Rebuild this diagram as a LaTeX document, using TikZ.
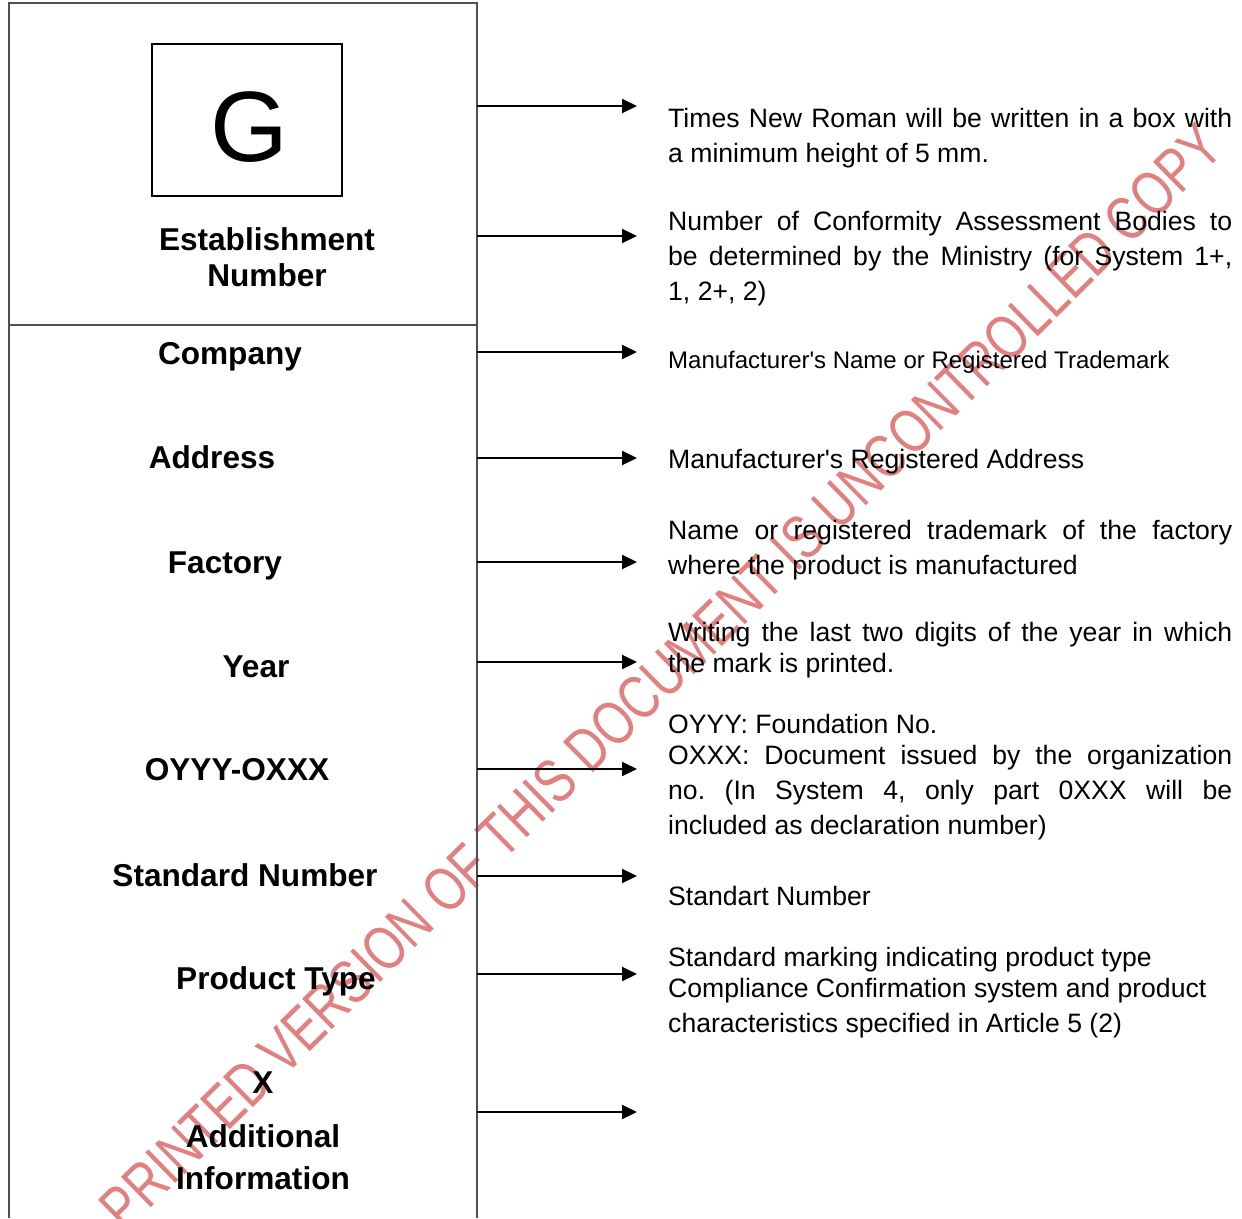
\documentclass[tikz,border=0pt]{standalone}
\usepackage{fontspec}
\setmainfont{Liberation Sans}
\usetikzlibrary{arrows.meta, positioning}
\definecolor{stampred}{RGB}{224, 128, 128}
\definecolor{framegray}{RGB}{80, 80, 80}
\frenchspacing

\begin{document}
\begin{tikzpicture}[x=1pt, y=-1pt,
  lbl/.style={font=\fontsize{31.6}{36}\selectfont\bfseries, inner sep=0pt, anchor=base},
  desc/.style={font=\fontsize{26.6}{35}\selectfont, inner sep=0pt, anchor=base west, text width=564pt, align=justify},
  pointer/.style={line width=2pt, -{Triangle[length=15pt, width=14pt]}}
]
  \useasboundingbox (0,0) rectangle (1242,1218);

  % Watermark
  \node[stampred, rotate=44.5, inner sep=0pt, font=\fontsize{62}{62}\selectfont] (stamp) at (661,677)
    {\scalebox{0.77}[1]{PRINTED VERSION OF THIS DOCUMENT IS UNCONTROLLED COPY}};

  % Frame
  \draw[framegray, line width=1.5pt] (9,1218) -- (9,3) -- (477,3) -- (477,1218);
  \draw[framegray, line width=1.5pt] (9,325) -- (477,325);

  % Mark box
  \node[draw, line width=1.5pt, minimum width=190pt, minimum height=152pt, inner sep=0pt] (gbox) at (247,120) {};
  \node[font=\fontsize{100}{100}\selectfont, inner sep=0pt] (gmark) at (249,127) {G};
  \node[lbl, align=center, anchor=center] (estab) at (267,257) {Establishment\\Number};

  % Left labels
  \node[lbl] (company) at (230,364) {Company};
  \node[lbl] (address) at (212,468) {Address};
  \node[lbl] (factory) at (225,573) {Factory};
  \node[lbl] (year) at (256,677) {Year};
  \node[lbl] (code) at (237,780) {OYYY-OXXX};
  \node[lbl] (stdno) at (245,886) {Standard Number};
  \node[lbl] (ptype) at (276,989) {Product Type};
  \node[lbl, align=center, anchor=center] (extra) at (263,1131) {X\\[18pt]Additional\\[6pt]Information};

  % Descriptions
  \node[desc] (dtimes) at (668,127) {Times New Roman will be written in a box with\linebreak a minimum height of 5 mm.};
  \node[desc] (dbodies) at (668,230) {Number of Conformity Assessment Bodies to\linebreak be determined by the Ministry (for System 1+,\linebreak 1, 2+, 2)};
  \node[desc, font=\fontsize{24}{30}\selectfont] (dname) at (668,368) {Manufacturer\textquotesingle s Name or Registered Trademark};
  \node[desc] (daddr) at (668,468) {Manufacturer\textquotesingle s Registered Address};
  \node[desc] (dfactory) at (668,539) {Name or registered trademark of the factory\linebreak where the product is manufactured};
  \node[desc, font=\fontsize{26.6}{31}\selectfont] (dyear) at (668,641) {Writing the last two digits of the year in which\linebreak the mark is printed.};
  \node[desc] (dcode) at (668,733) {OYYY: Foundation No.\\[-4pt]OXXX: Document issued by the organization\linebreak no. (In System 4, only part 0XXX will be\linebreak included as declaration number)};
  \node[desc] (dstd) at (668,905) {Standart Number};
  \node[desc] (dmark) at (668,966) {Standard marking indicating product type\\[-4pt]Compliance Confirmation system and product\\characteristics specified in Article 5 (2)};

  % Pointers
  \foreach \y [count=\i] in {106,236,352,458,562,662,769,876,974,1112} {
    \coordinate (from\i) at (477,\y);
    \coordinate (to\i) at (637,\y);
    \draw[pointer] (from\i) -- (to\i);
  }
\end{tikzpicture}
\end{document}
